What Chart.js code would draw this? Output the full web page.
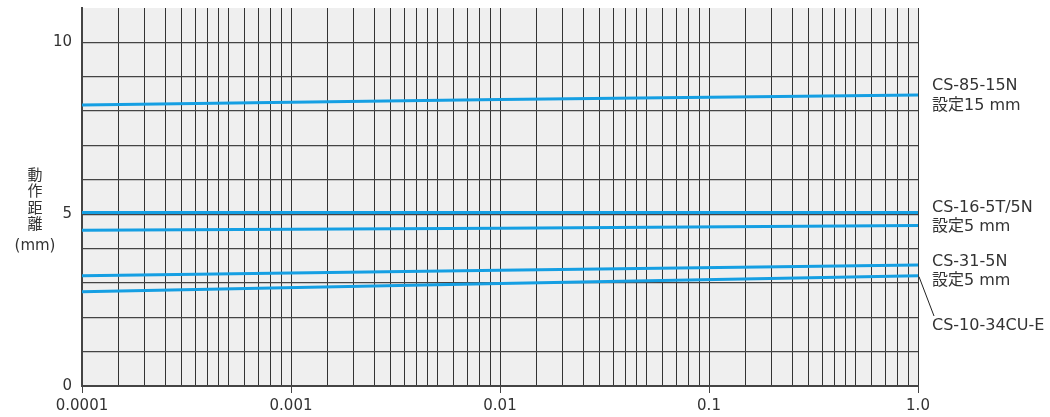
<!DOCTYPE html>
<html>
<head>
<meta charset="utf-8">
<script src="https://cdn.jsdelivr.net/npm/chart.js@4/dist/chart.umd.min.js"></script>
<style>
  html, body { margin: 0; padding: 0; background: #fff; }
  #wrap { width: 1050px; height: 417px; }
</style>
</head>
<body>
<div id="wrap"><canvas id="chart" width="1050" height="417"></canvas></div>
<script>
// x positions where values were read (log scale)
const X_POINTS = [0.0001, 0.01, 1.0];

// series values (動作距離, mm)
const CS_85_15N   = [8.18, 8.34, 8.47];
const CS_16_5T    = [5.05, 5.05, 5.05];
const CS_16_5N    = [4.53, 4.59, 4.67];
const CS_31_5N    = [3.21, 3.37, 3.52];
const CS_10_34CUE = [2.74, 2.98, 3.21];

// axes
const X_DECADES = [0.0001, 0.001, 0.01, 0.1, 1.0];
const X_TICK_LABELS = ['0.0001', '0.001', '0.01', '0.1', '1.0'];
const X_GRID_STEPS = [1, 1.5, 2, 2.5, 3, 3.5, 4, 4.5, 5, 6, 7, 8, 9];
const Y_GRID_VALUES = [0, 1, 2, 3, 4, 5, 6, 7, 8, 9, 10];
const Y_TICK_LABELS = { 0: '0', 5: '5', 10: '10' };
const Y_TITLE = ['動', '作', '距', '離', '(mm)'];

const LINE_BLUE = '#159fe3';
const GRID = '#333';
const TEXT = '#333';
const FONT = "'DejaVu Sans', 'Noto Sans CJK JP', sans-serif";

function toPoints(arr) {
    return X_POINTS.map((x, i) => ({ x: x, y: arr[i] }));
}

function decadeIndex(v) {
    return X_DECADES.findIndex(d => Math.abs(v - d) / d < 1e-6);
}

// grey plot area
const plotBackground = {
    id: 'plotBackground',
    beforeDraw(chart) {
        const { ctx, chartArea: a } = chart;
        ctx.save();
        ctx.fillStyle = '#efefef';
        ctx.fillRect(a.left, a.top, a.right - a.left, a.bottom - a.top);
        ctx.restore();
    }
};

// right side labels, leader line, vertical y title
const sideLabels = {
    id: 'sideLabels',
    afterDraw(chart) {
        const { ctx, chartArea: a, scales } = chart;
        const x0 = a.right + 14;
        ctx.save();
        ctx.fillStyle = TEXT;
        ctx.font = '16px ' + FONT;
        ctx.textAlign = 'left';
        ctx.textBaseline = 'middle';
        const labels = [
            ['CS-85-15N', 86], ['設定15 mm', 106],
            ['CS-16-5T/5N', 208], ['設定5 mm', 227],
            ['CS-31-5N', 262], ['設定5 mm', 281],
            ['CS-10-34CU-E', 326]
        ];
        labels.forEach(([t, y]) => ctx.fillText(t, x0, y));

        // leader to CS-10-34CU-E
        const lx = scales.x.getPixelForValue(1.0);
        const ly = scales.y.getPixelForValue(CS_10_34CUE[CS_10_34CUE.length - 1]);
        ctx.strokeStyle = '#222';
        ctx.lineWidth = 1;
        ctx.beginPath();
        ctx.moveTo(lx + 1, ly + 1);
        ctx.lineTo(x0 + 2, 316);
        ctx.stroke();

        // y axis title, stacked
        ctx.textAlign = 'center';
        ctx.font = '15px ' + FONT;
        const ys = [176, 192.5, 209, 225.5, 246];
        Y_TITLE.forEach((t, i) => ctx.fillText(t, 35, ys[i]));
        ctx.restore();
    }
};

Chart.defaults.font.family = FONT;
Chart.defaults.color = TEXT;

const series = [
    ['CS-85-15N', CS_85_15N],
    ['CS-16-5T', CS_16_5T],
    ['CS-16-5N', CS_16_5N],
    ['CS-31-5N', CS_31_5N],
    ['CS-10-34CU-E', CS_10_34CUE]
];

new Chart(document.getElementById('chart'), {
    type: 'line',
    data: {
        datasets: series.map(([name, vals]) => ({
            label: name,
            data: toPoints(vals),
            borderColor: LINE_BLUE,
            borderWidth: 3,
            pointRadius: 0,
            tension: 0,
            fill: false
        }))
    },
    options: {
        responsive: false,
        animation: false,
        layout: { padding: { left: 0, right: 132, top: 8, bottom: 0 } },
        plugins: {
            legend: { display: false },
            tooltip: { enabled: false }
        },
        scales: {
            x: {
                type: 'logarithmic',
                min: 0.0001,
                max: 1.0,
                afterBuildTicks: (s) => {
                    const t = [];
                    X_DECADES.forEach((d, i) => {
                        if (i === X_DECADES.length - 1) { t.push({ value: d }); return; }
                        X_GRID_STEPS.forEach(m => t.push({ value: d * m }));
                    });
                    s.ticks = t;
                },
                afterFit: (s) => { s.height = 31; },
                grid: {
                    color: GRID,
                    lineWidth: 1,
                    drawTicks: true,
                    tickLength: 7,
                    tickColor: (c) => (c.tick && decadeIndex(c.tick.value) >= 0) ? '#444' : 'rgba(0,0,0,0)'
                },
                border: { color: '#444', width: 2 },
                ticks: {
                    autoSkip: false,
                    maxRotation: 0,
                    padding: 4,
                    color: TEXT,
                    font: { size: 15 },
                    callback: (v) => {
                        const i = decadeIndex(v);
                        return i >= 0 ? X_TICK_LABELS[i] : '';
                    }
                }
            },
            y: {
                min: 0,
                max: 11,
                afterBuildTicks: (s) => { s.ticks = Y_GRID_VALUES.map(v => ({ value: v })); },
                afterFit: (s) => { s.width = 82; s.paddingTop = 0; s.paddingBottom = 0; },
                grid: { color: '#444', lineWidth: 1.2, drawTicks: false },
                border: { color: '#444', width: 2 },
                ticks: {
                    padding: 10,
                    color: TEXT,
                    font: { size: 15 },
                    callback: (v) => (Y_TICK_LABELS[v] !== undefined ? Y_TICK_LABELS[v] : '')
                }
            }
        }
    },
    plugins: [plotBackground, sideLabels]
});
</script>
</body>
</html>
